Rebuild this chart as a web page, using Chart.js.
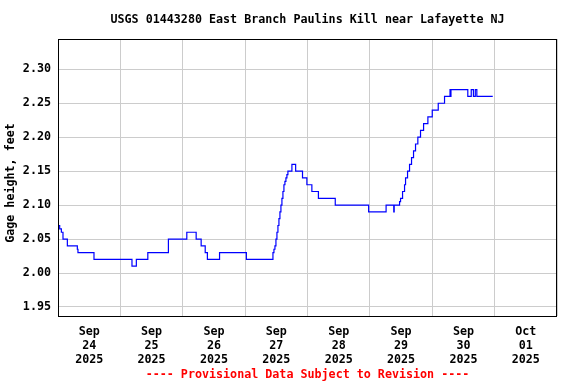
<!DOCTYPE html>
<html><head><meta charset="utf-8">
<script src="https://cdn.jsdelivr.net/npm/chart.js@4/dist/chart.umd.min.js"></script>
<style>html,body{margin:0;padding:0;background:#fff}canvas{display:block}</style>
</head><body>
<canvas id="c" width="576" height="384"></canvas>
<script>
const chartTitle = 'USGS 01443280 East Branch Paulins Kill near Lafayette NJ';
const footerNote = '---- Provisional Data Subject to Revision ----';
const yAxisTitle = 'Gage height, feet';

// days since 2025-09-24 00:00 at which each gage reading starts
const dayOffsets = [
  0.000, 0.027, 0.054, 0.080, 0.150, 0.310, 0.320, 0.577,
  1.186, 1.256, 1.440, 1.770,
  2.065, 2.215, 2.295, 2.360, 2.395, 2.590,
  3.020, 3.430, 3.446, 3.462, 3.478, 3.494, 3.510, 3.526, 3.542, 3.558,
  3.574, 3.590, 3.606, 3.622, 3.638, 3.654, 3.670, 3.686, 3.750, 3.810,
  3.920, 3.990, 4.070, 4.175, 4.445, 4.980,
  5.260, 5.383, 5.390, 5.476, 5.492, 5.524, 5.556, 5.572, 5.604, 5.636,
  5.668, 5.700, 5.732, 5.769, 5.812, 5.861, 5.930,
  6.000, 6.096, 6.197, 6.285, 6.290, 6.300, 6.570, 6.625, 6.660, 6.690,
  6.715, 6.970
];
// gage height, feet
const gageHeight = [
  2.07, 2.065, 2.06, 2.05, 2.04, 2.035, 2.03, 2.02,
  2.01, 2.02, 2.03, 2.05,
  2.06, 2.05, 2.04, 2.03, 2.02, 2.03,
  2.02, 2.02, 2.03, 2.035, 2.04, 2.05, 2.06, 2.07, 2.08, 2.09,
  2.10, 2.11, 2.12, 2.13, 2.135, 2.14, 2.145, 2.15, 2.16, 2.15,
  2.14, 2.13, 2.12, 2.11, 2.10, 2.09,
  2.10, 2.09, 2.10, 2.105, 2.11, 2.12, 2.13, 2.14, 2.15, 2.16,
  2.17, 2.18, 2.19, 2.20, 2.21, 2.22, 2.23,
  2.24, 2.25, 2.26, 2.27, 2.26, 2.27, 2.26, 2.27, 2.26, 2.27,
  2.26, 2.26
];

const dayLabels = [
  ['Sep', '24', '2025'], ['Sep', '25', '2025'], ['Sep', '26', '2025'],
  ['Sep', '27', '2025'], ['Sep', '28', '2025'], ['Sep', '29', '2025'],
  ['Sep', '30', '2025'], ['Oct', '01', '2025']
];
const dayGrid = [0, 1, 2, 3, 4, 5, 6, 7, 8];
const yTicks = [1.95, 2.00, 2.05, 2.10, 2.15, 2.20, 2.25, 2.30];
const yMin = 1.9367, yMax = 2.3446;

const FONT = { family: '"DejaVu Sans Mono", "Liberation Mono", monospace', size: 11.7, weight: 'bold' };
Chart.defaults.font.family = FONT.family;
Chart.defaults.font.size = FONT.size;
Chart.defaults.font.weight = FONT.weight;
Chart.defaults.color = '#000';

const decor = {
  id: 'decor',
  afterDraw(chart) {
    const { ctx, chartArea: a } = chart;
    ctx.save();
    ctx.strokeStyle = '#000';
    ctx.lineWidth = 1;
    ctx.strokeRect(Math.round(a.left) + 0.5, Math.round(a.top) + 0.5,
                   Math.round(a.right - a.left) - 1, Math.round(a.bottom - a.top));
    const cx = (a.left + a.right) / 2;
    ctx.font = `${FONT.weight} ${FONT.size}px ${FONT.family}`;
    ctx.textAlign = 'center';
    ctx.textBaseline = 'middle';
    ctx.fillStyle = '#000';
    ctx.fillText(chartTitle, cx, 20);
    ctx.save();
    ctx.translate(11, 183);
    ctx.rotate(-Math.PI / 2);
    ctx.fillText(yAxisTitle, 0, 0);
    ctx.restore();
    ctx.fillStyle = '#ff0000';
    ctx.fillText(footerNote, cx, 375);
    ctx.restore();
  }
};

new Chart(document.getElementById('c'), {
  type: 'line',
  data: {
    datasets: [{
      data: dayOffsets.map((d, i) => ({ x: d, y: gageHeight[i] })),
      stepped: 'before',
      borderColor: '#0000ff',
      borderWidth: 1.2,
      pointRadius: 0,
      fill: false
    }]
  },
  options: {
    responsive: false,
    animation: false,
    devicePixelRatio: 1,
    layout: { padding: { top: 39, right: 19, left: 0, bottom: 0 } },
    plugins: { legend: { display: false }, tooltip: { enabled: false } },
    scales: {
      x: {
        type: 'linear', min: 0, max: 8,
        afterBuildTicks: s => { s.ticks = dayGrid.map(v => ({ value: v })); },
        afterFit: s => { s.height = 68; },
        ticks: {
          callback: (v, i) => dayLabels[i] || '',
          labelOffset: 31.2, padding: 9, maxRotation: 0, autoSkip: false, color: '#000'
        },
        grid: { color: '#cccccc', drawTicks: false },
        border: { display: false }
      },
      y: {
        type: 'linear', min: yMin, max: yMax,
        afterBuildTicks: s => { s.ticks = yTicks.map(v => ({ value: v })); },
        afterFit: s => { s.width = 58; },
        ticks: { callback: v => v.toFixed(2), padding: 7, color: '#000' },
        grid: { color: '#cccccc', drawTicks: false },
        border: { display: false }
      }
    }
  },
  plugins: [decor]
});
</script>
</body></html>
